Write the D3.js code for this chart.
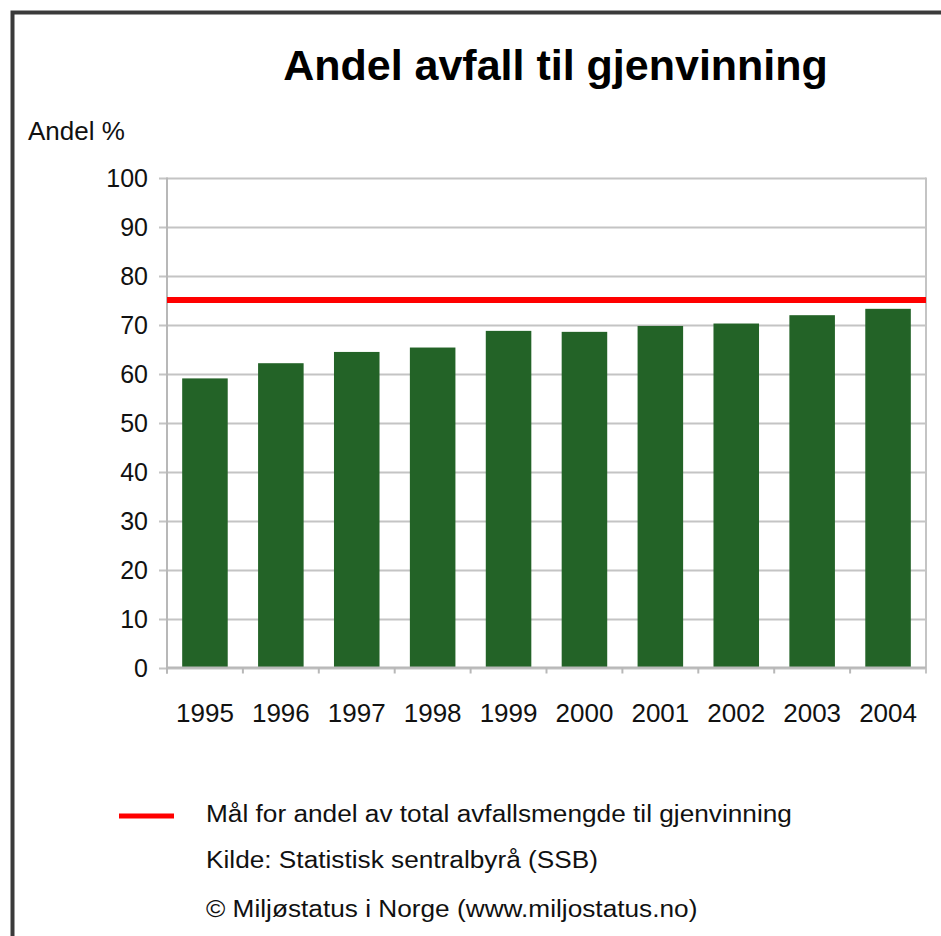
<!DOCTYPE html>
<html>
<head>
<meta charset="utf-8">
<script src="https://cdn.jsdelivr.net/npm/d3@7"></script>
<style>
  html, body { margin: 0; padding: 0; background: #fff; }
  svg { display: block; font-family: "Liberation Sans", Arial, sans-serif; }
</style>
</head>
<body>
<svg id="chart" width="941" height="936"></svg>
<script>
// ---- data ----
const years = ["1995", "1996", "1997", "1998", "1999", "2000", "2001", "2002", "2003", "2004"];
const shares = [59.0, 62.1, 64.4, 65.3, 68.7, 68.5, 69.7, 70.2, 71.9, 73.2];
const target = [75];
const yTicks = [0, 10, 20, 30, 40, 50, 60, 70, 80, 90, 100];
const titleText = "Andel avfall til gjenvinning";
const yAxisLabel = "Andel %";
const legendText = "Mål for andel av total avfallsmengde til gjenvinning";
const footerLines = ["Kilde: Statistisk sentralbyrå (SSB)", "© Miljøstatus i Norge (www.miljostatus.no)"];

// ---- layout ----
const svg = d3.select("#chart");
const plot = { left: 167, right: 926, top: 177.5, bottom: 667.5 };

const x = d3.scaleBand().domain(years).range([plot.left, plot.right]).paddingInner(0.4).paddingOuter(0.2);
const xb = d3.scaleBand().domain(years).range([plot.left, plot.right]);
const y = d3.scaleLinear().domain([0, 100]).range([plot.bottom, plot.top]);

// horizontal stretch used by the original rendering of small text
function stretch(sel, factor) {
  sel.each(function () {
    const len = this.getComputedTextLength();
    d3.select(this).attr("textLength", len * factor).attr("lengthAdjust", "spacingAndGlyphs");
  });
}

// outer frame (only top & left visible in reference)
svg.append("path")
  .attr("d", `M12.5,936 L12.5,12.5 L941,12.5`)
  .attr("fill", "none").attr("stroke", "#3a3a3a").attr("stroke-width", 4);

// title
svg.append("text").attr("x", 555.5).attr("y", 80).attr("text-anchor", "middle")
  .attr("font-size", 43).attr("font-weight", "bold").attr("fill", "#000").text(titleText);

svg.append("text").attr("x", 28).attr("y", 140).attr("font-size", 25).attr("fill", "#111")
  .text(yAxisLabel).call(stretch, 1.04);

// gridlines
const gridG = svg.append("g");
gridG.selectAll("line").data(yTicks).join("line")
  .attr("x1", plot.left - 8).attr("x2", plot.right)
  .attr("y1", d => Math.round(y(d)) + 0.5).attr("y2", d => Math.round(y(d)) + 0.5)
  .attr("stroke", "#c4c4c4").attr("stroke-width", 2);

// right border of plot
svg.append("line").attr("x1", plot.right).attr("x2", plot.right)
  .attr("y1", y(100)).attr("y2", y(0) + 6).attr("stroke", "#c4c4c4").attr("stroke-width", 2);

// y axis labels
svg.append("g").selectAll("text").data(yTicks).join("text")
  .attr("x", 148).attr("y", d => y(d) + 9).attr("text-anchor", "end")
  .attr("font-size", 25).attr("fill", "#111").text(d => d);

// bars
svg.append("g").selectAll("rect").data(years).join("rect")
  .attr("x", d => x(d)).attr("width", x.bandwidth())
  .attr("y", (d, i) => y(shares[i])).attr("height", (d, i) => y(0) - y(shares[i]))
  .attr("fill", "#236327");

// left axis line
svg.append("line").attr("x1", plot.left).attr("x2", plot.left)
  .attr("y1", y(100)).attr("y2", y(0) + 6).attr("stroke", "#b8b8b8").attr("stroke-width", 2);
// x axis line
svg.append("line").attr("x1", plot.left).attr("x2", plot.right)
  .attr("y1", y(0)).attr("y2", y(0)).attr("stroke", "#b8b8b8").attr("stroke-width", 2);

// x ticks at category boundaries
svg.append("g").selectAll("line").data(years).join("line")
  .attr("x1", d => xb(d)).attr("x2", d => xb(d))
  .attr("y1", y(0)).attr("y2", y(0) + 6).attr("stroke", "#b8b8b8").attr("stroke-width", 2);

// x labels
svg.append("g").selectAll("text").data(years).join("text")
  .attr("x", d => xb(d) + xb.bandwidth() / 2).attr("y", 722).attr("text-anchor", "middle")
  .attr("font-size", 26).attr("fill", "#111").text(d => d);

// target line
svg.append("g").selectAll("line").data(target).join("line")
  .attr("x1", plot.left).attr("x2", plot.right)
  .attr("y1", d => y(d)).attr("y2", d => y(d))
  .attr("stroke", "#ff0000").attr("stroke-width", 6);

// legend
svg.append("line").attr("x1", 119).attr("x2", 174).attr("y1", 816).attr("y2", 816)
  .attr("stroke", "#ff0000").attr("stroke-width", 5);
svg.append("text").attr("x", 206).attr("y", 822).attr("font-size", 23).attr("fill", "#111")
  .text(legendText).call(stretch, 1.14);
svg.append("g").selectAll("text").data(footerLines).join("text")
  .attr("x", 206).attr("y", (d, i) => 868 + i * 49).attr("font-size", 23).attr("fill", "#111")
  .text(d => d).call(stretch, 1.14);
</script>
</body>
</html>
